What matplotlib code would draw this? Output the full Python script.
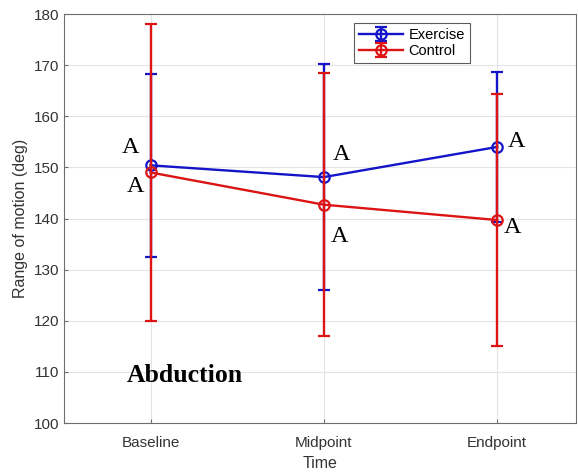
import matplotlib
matplotlib.use("Agg")
import matplotlib.pyplot as plt

time_points = ["Baseline", "Midpoint", "Endpoint"]
exercise_mean = [150.4, 148.1, 154.0]
exercise_err = [17.9, 22.1, 14.7]
control_mean = [149.0, 142.7, 139.7]
control_err = [29.0, 25.7, 24.7]
y_ticks = [100, 110, 120, 130, 140, 150, 160, 170, 180]

# significance letters: (x, y baseline, letter)
exercise_letters = [(0.885, 152.8, "A"), (2.10, 151.5, "A"), (3.11, 154.0, "A")]
control_letters = [(0.91, 145.2, "A"), (2.09, 135.4, "A"), (3.09, 137.2, "A")]

blue = "#1414c8"
red = "#dc1414"

fig = plt.figure(figsize=(5.78, 4.73), dpi=100)
ax = fig.add_axes([0.1107, 0.1057, 0.886, 0.8647])

x = [1, 2, 3]
ax.errorbar(x, exercise_mean, yerr=exercise_err, color=blue, marker="o",
            markerfacecolor="none", markersize=7.5, markeredgewidth=1.6,
            linewidth=1.7, elinewidth=1.7, capsize=4, capthick=1.7,
            label="Exercise", zorder=3)
ax.errorbar(x, control_mean, yerr=control_err, color=red, marker="o",
            markerfacecolor="none", markersize=7.5, markeredgewidth=1.6,
            linewidth=1.7, elinewidth=1.7, capsize=4, capthick=1.7,
            label="Control", zorder=4)

for xp, yp, s in exercise_letters + control_letters:
    ax.text(xp, yp, s, ha="center", va="baseline", fontsize=17.5,
            family="Liberation Serif", color="black")

ax.text(1.2, 108.1, "Abduction", ha="center", va="baseline", fontsize=18.5,
        family="Liberation Serif", fontweight="bold", color="black")

ax.set_xlim(0.5, 3.455)
ax.set_ylim(100, 180)
ax.set_xticks(x)
ax.set_xticklabels(time_points)
ax.set_yticks(y_ticks)
ax.grid(True, color="#e4e4e4", linewidth=0.8)
ax.set_axisbelow(True)
for side in ax.spines.values():
    side.set_color("#6e6e6e")
    side.set_linewidth(0.8)
ax.tick_params(direction="in", length=3, colors="#6e6e6e", labelcolor="#333333",
               labelsize=11)
ax.tick_params(axis="x", pad=9)
for lbl in ax.get_xticklabels() + ax.get_yticklabels():
    lbl.set_family("Liberation Sans")

ax.set_xlabel("Time", fontsize=11.5, family="Liberation Sans", color="#333333", labelpad=5)
ax.set_ylabel("Range of motion (deg)", fontsize=11.5, family="Liberation Sans",
              color="#333333", labelpad=4)

leg = ax.legend(loc="upper right", bbox_to_anchor=(0.793, 0.978),
                prop={"family": "Liberation Sans", "size": 10.5},
                frameon=True, fancybox=False, edgecolor="#333333",
                handlelength=3.0, borderpad=0.35, labelspacing=0.15,
                handletextpad=0.4, borderaxespad=0)
leg.get_frame().set_linewidth(0.8)

fig.savefig("out.png", dpi=100)
